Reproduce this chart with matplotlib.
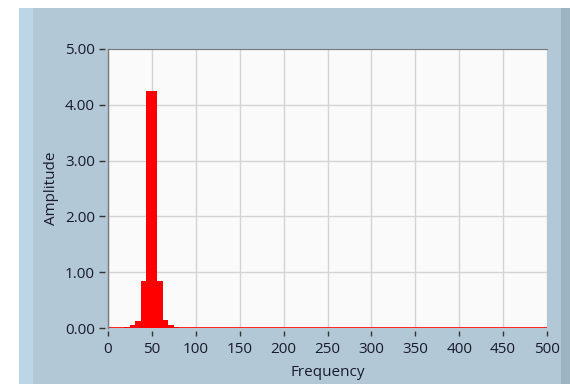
import matplotlib
matplotlib.use("Agg")
import matplotlib.pyplot as plt
from matplotlib.patches import Rectangle

# spectrum bins (Hz edges) and amplitudes
edges = [0, 18.75, 25, 31.25, 37.5, 43.75, 56.25, 62.5, 68.75, 75, 81.25, 500]
amps = [0.003, 0.02, 0.047, 0.125, 0.84, 4.24, 0.84, 0.136, 0.047, 0.02, 0.004]
xticks = [0, 50, 100, 150, 200, 250, 300, 350, 400, 450, 500]
yticks = [0, 1, 2, 3, 4, 5]

plt.rcParams['font.family'] = ['Open Sans', 'DejaVu Sans']

W, H = 570, 384
fig = plt.figure(figsize=(W / 100, H / 100), dpi=100, facecolor='white')

# panel background
fig.patches.append(Rectangle((19 / W, 0), 1 - 19 / W, 1 - 8 / H, transform=fig.transFigure,
                             facecolor='#b2c8d7', edgecolor='none', zorder=-2))
fig.patches.append(Rectangle((19 / W, 0), 14 / W, 1 - 8 / H, transform=fig.transFigure,
                             facecolor='#bdd6e6', edgecolor='none', zorder=-1))
fig.patches.append(Rectangle((561 / W, 0), 9 / W, 1 - 8 / H, transform=fig.transFigure,
                             facecolor='#9db4c3', edgecolor='none', zorder=-1))

ax = fig.add_axes([108 / W, 1 - 328 / H, (547 - 108) / W, (328 - 49) / H])
ax.set_zorder(1)
ax.set_facecolor('#fafafa')

ax.stairs(amps, edges, fill=True, color='red', linewidth=1.2, zorder=3)
ax.plot([0, 500], [0.003, 0.003], color='red', linewidth=1.2, zorder=3)

ax.set_xlim(0, 500)
ax.set_ylim(0, 5)
ax.set_xticks(xticks)
ax.set_yticks(yticks)
ax.set_yticklabels(['%.2f' % v for v in yticks])
ax.grid(True, color='#d4d4d4', linewidth=1)
ax.set_axisbelow(True)

# frame: gray top and left border, scales offset a little outside
ax.spines['top'].set_color('#7a7a7a')
ax.spines['right'].set_visible(False)
ax.axvline(0, color='#7a7a7a', linewidth=1, clip_on=False, zorder=4)
for s in ['left', 'bottom']:
    ax.spines[s].set_position(('outward', 2.5))
    ax.spines[s].set_color('none')

ax.tick_params(axis='x', length=3.3, width=1, color='#333333', labelsize=11,
               labelcolor='#1a1a2a', pad=4)
ax.tick_params(axis='y', length=4.5, width=1, color='#333333', labelsize=11,
               labelcolor='#1a1a2a', pad=2.5)
ax.set_xlabel('Frequency', fontsize=11, color='#1a1a2a', va='center')
ax.set_ylabel('Amplitude', fontsize=11, color='#1a1a2a', va='center')
ax.xaxis.set_label_coords(0.5, (328 - 372) / 279)
ax.yaxis.set_label_coords((52 - 108) / 439, 0.5)

fig.savefig('out.png', dpi=100)
